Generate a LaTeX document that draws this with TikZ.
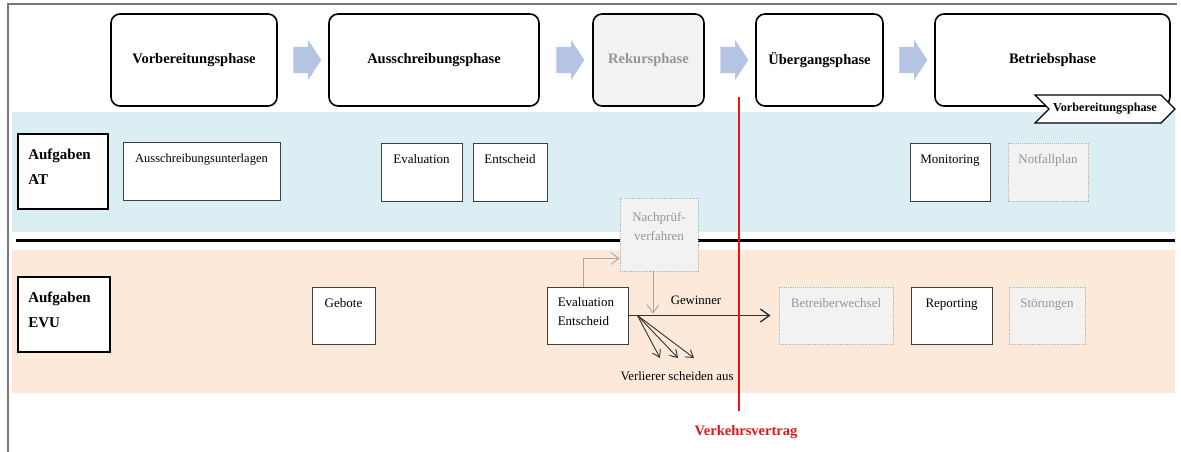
\documentclass[tikz,border=0pt]{standalone}
\usepackage{fontspec}
\setmainfont{Liberation Serif}
\usetikzlibrary{arrows.meta,calc,shapes.arrows,shapes.symbols}

\begin{document}
\begin{tikzpicture}[x=1pt,y=1pt,
  phase/.style={draw=black,line width=1.6pt,rounded corners=9pt,fill=white,
    minimum height=92pt,inner sep=0pt,font=\bfseries\fontsize{14.5}{17}\selectfont},
  phasearrow/.style={single arrow,fill=arrowblue,draw=none,minimum height=28pt,
    single arrow head extend=7pt,single arrow tip angle=113,inner sep=0pt},
  tag/.style={signal,signal to=east,signal from=west,draw=black,fill=white,line width=1.1pt,
    minimum width=140pt,minimum height=28pt,inner sep=0pt,font=\bfseries\fontsize{12.2}{14}\selectfont},
  rolebox/.style={draw=black,line width=1.8pt,fill=white,inner sep=0pt},
  rolelabel/.style={anchor=north west,inner sep=0pt,xshift=11pt,yshift=-16pt,align=left,
    font=\bfseries\fontsize{15}{25}\selectfont},
  task/.style={draw=taskedge,line width=0.9pt,fill=white,inner sep=0pt},
  optask/.style={draw=greyedge,densely dotted,line width=0.9pt,fill=greyfill,inner sep=0pt},
  tasklabel/.style={anchor=north,inner sep=0pt,yshift=-12pt,align=center,
    font=\fontsize{13}{18.5}\selectfont},
  greyarrow/.style={draw=greyline,line width=0.9pt,-{Straight Barb[length=8pt,width=12pt]}},
  winarrow/.style={draw=darkline,line width=1.4pt,-{Straight Barb[length=9pt,width=13pt]}},
  losearrow/.style={draw=darkline,line width=0.9pt,-{Straight Barb[length=7pt,width=9pt]}}]
  \definecolor{arrowblue}{RGB}{180,196,226}
  \definecolor{bandblue}{RGB}{218,238,243}
  \definecolor{bandpeach}{RGB}{253,233,217}
  \definecolor{taskedge}{RGB}{64,64,64}
  \definecolor{greyedge}{RGB}{180,180,180}
  \definecolor{greyfill}{RGB}{242,242,242}
  \definecolor{greytext}{RGB}{150,150,150}
  \definecolor{greyline}{RGB}{166,166,166}
  \definecolor{darkline}{RGB}{50,50,50}
  \definecolor{framegray}{RGB}{120,120,120}
  \definecolor{vred}{RGB}{235,20,20}
  \useasboundingbox (0,0) rectangle (1181,452);
  \draw[framegray,line width=1.2pt] (8,0) -- (8,448) -- (1177,448);
  % bands
  \fill[bandblue] (12,220) rectangle (1175,340);
  \fill[bandpeach] (12,59) rectangle (1175,202);
  \draw[line width=3pt] (16,211) -- (1175,211);
  % phases
  \node[phase,minimum width=166pt] (vorb) at (194,392) {Vorbereitungsphase};
  \node[phase,minimum width=210pt] (aus) at (434,392) {Ausschreibungsphase};
  \node[phase,minimum width=111pt,fill=greyfill,text=greytext] (rek) at (648.5,392) {Rekursphase};
  \node[phase,minimum width=127pt] (ueb) at (819.5,392) {Übergangsphase};
  \node[phase,minimum width=235pt] (betr) at (1052.5,392) {Betriebsphase};
  \node[phasearrow] (pa1) at ($(vorb.east)!0.5!(aus.west)$) {\rule{0pt}{26pt}};
  \node[phasearrow] (pa2) at ($(aus.east)!0.5!(rek.west)$) {\rule{0pt}{26pt}};
  \node[phasearrow] (pa3) at ($(rek.east)!0.5!(ueb.west)$) {\rule{0pt}{26pt}};
  \node[phasearrow] (pa4) at ($(ueb.east)!0.5!(betr.west)$) {\rule{0pt}{26pt}};
  \node[tag] (next) at (1105,343) {Vorbereitungsphase};
  % AT
  \node[rolebox,minimum width=90pt,minimum height=75pt,
    label={[rolelabel]north west:{Aufgaben\\AT}}] (at) at (63,280.5) {};
  \node[task,minimum width=157pt,minimum height=58pt,
    label={[tasklabel,font=\fontsize{12.5}{18}\selectfont]north:Ausschreibungsunterlagen}] (ausu) at (201.5,281) {};
  \node[task,minimum width=81pt,minimum height=58pt,
    label={[tasklabel]north:Evaluation}] (eval) at (421.5,280) {};
  \node[task,minimum width=74pt,minimum height=58pt,
    label={[tasklabel]north:Entscheid}] (ent) at (510,280) {};
  \node[task,minimum width=80pt,minimum height=58pt,
    label={[tasklabel]north:Monitoring}] (mon) at (950,280) {};
  \node[optask,minimum width=80pt,minimum height=58pt,
    label={[tasklabel,text=greytext]north:Notfallplan}] (notf) at (1048,280) {};
  \node[optask,minimum width=78pt,minimum height=73pt,
    label={[tasklabel,yshift=-3pt,text=greytext]north:{Nachprüf-\\verfahren}}] (nachpr) at (659,217.5) {};
  % EVU
  \node[rolebox,minimum width=92pt,minimum height=75pt,
    label={[rolelabel]north west:{Aufgaben\\EVU}}] (evu) at (64,137.5) {};
  \node[task,minimum width=63pt,minimum height=57pt,
    label={[tasklabel]north:Gebote}] (geb) at (343.5,136.5) {};
  \node[task,minimum width=81pt,minimum height=57pt,
    label={[tasklabel,anchor=north west,xshift=11pt,yshift=1pt,align=left]north west:{Evaluation\\Entscheid}}] (event) at (587.5,136.5) {};
  \node[optask,minimum width=114pt,minimum height=57pt,
    label={[tasklabel,text=greytext]north:Betreiberwechsel}] (bwech) at (836,136.5) {};
  \node[task,minimum width=81pt,minimum height=57pt,
    label={[tasklabel]north:Reporting}] (rep) at (951.5,136.5) {};
  \node[optask,minimum width=76pt,minimum height=57pt,
    label={[tasklabel,text=greytext]north:Störungen}] (stoer) at (1047,136.5) {};
  % Rekurs
  \coordinate (nin) at ($(nachpr.south west)+(0,13)$);
  \coordinate (ndrop) at ($(nachpr.south)+(-6,0)$);
  \draw[greyarrow] ($(event.north west)+(37,0)$) |- (nin);
  \draw[greyarrow,shorten >=2pt] (ndrop) -- (ndrop |- event.east);
  \draw[winarrow,shorten >=8pt] (event.east) -- (bwech.west)
    node[pos=0.45,above=7pt,font=\fontsize{12.8}{15}\selectfont] (gew) {Gewinner};
  \coordinate (split) at ($(event.east)+(9,0)$);
  \coordinate (lose) at (677,94);
  \foreach \dx in {-17,1,17}
    \draw[losearrow] (split) -- ($(lose)+(\dx,0)$);
  \node[font=\fontsize{12.8}{15}\selectfont] (verl) at (677,76) {Verlierer scheiden aus};
  % Vertrag
  \coordinate (vtop) at (739,355);
  \coordinate (vbot) at (739,41);
  \draw[vred,line width=1.6pt] (vtop) -- (vbot);
  \node[text=vred,font=\bfseries\fontsize{14.5}{17}\selectfont] (vv) at (746,20) {Verkehrsvertrag};
\end{tikzpicture}
\end{document}
